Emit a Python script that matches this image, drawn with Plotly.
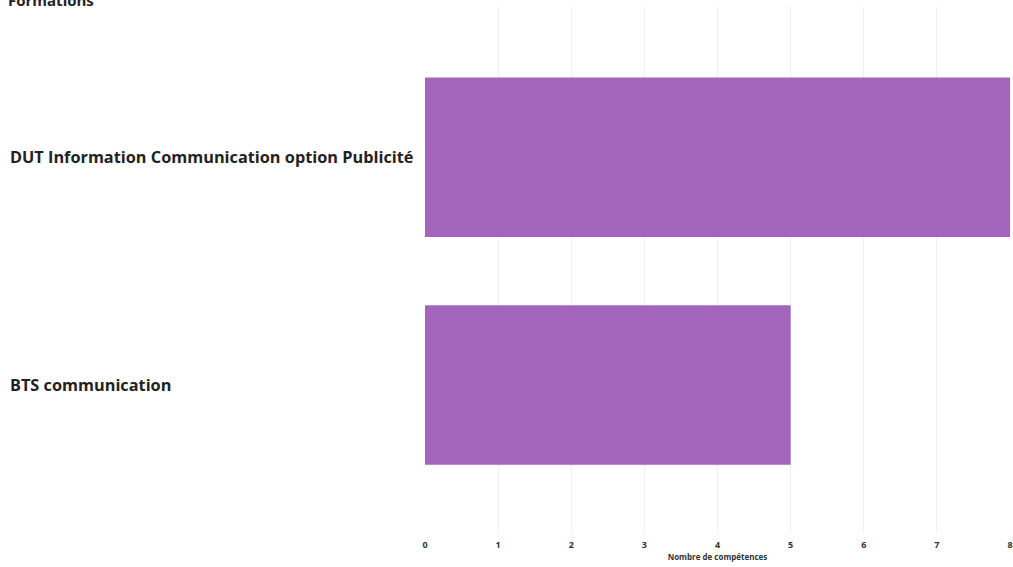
import plotly.graph_objects as go

formations = ["BTS communication", "DUT Information Communication option Publicité"]
nb_competences = [5, 8]
x_ticks = [0, 1, 2, 3, 4, 5, 6, 7, 8]

BAR_COLOR = "#a364bc"
FONT = "Open Sans"
TXT = "#222222"

W, H = 1013, 567
L, R, T, B = 425, 0, 7, 34
plot_w = W - L - R
plot_h = H - T - B

fig = go.Figure()
fig.add_trace(go.Bar(
    y=list(range(len(formations))),
    x=nb_competences,
    orientation="h",
    width=0.7,
    marker=dict(color=BAR_COLOR, line=dict(width=0)),
    hoverinfo="x",
))

# labels des formations, alignés à gauche
for i, name in enumerate(formations):
    fig.add_annotation(
        x=-(L - 6) / plot_w, y=i, xref="paper", yref="y",
        text="<b>%s</b>" % name, showarrow=False,
        xanchor="left", yanchor="middle",
        font=dict(family=FONT, size=16.3, color=TXT),
    )

# titre de l'axe y, en haut à gauche
fig.add_annotation(
    x=-(L - 4) / plot_w, y=1 + (T - 12) / plot_h, xref="paper", yref="paper",
    text="<b>Formations</b>", showarrow=False,
    xanchor="left", yanchor="bottom",
    font=dict(family=FONT, size=15, color=TXT),
)

fig.update_layout(
    width=W, height=H,
    margin=dict(l=L, r=R, t=T, b=B),
    paper_bgcolor="white", plot_bgcolor="white",
    showlegend=False,
    xaxis=dict(
        range=[0, 8], tickvals=x_ticks,
        showgrid=True, gridcolor="#efefef", gridwidth=1,
        zeroline=False, showline=False,
        ticklabelstandoff=5, ticklabeloverflow="allow",
        tickfont=dict(family=FONT, size=9, color="#333333", weight="bold"),
        title=dict(text="<b>Nombre de compétences</b>", standoff=1,
                   font=dict(family=FONT, size=8, color="#333333")),
    ),
    yaxis=dict(
        range=[-0.65, 1.66], showticklabels=False,
        showgrid=False, zeroline=False, showline=False,
    ),
)

fig.write_html("out.html", config={"displayModeBar": False},
               post_script="document.body.style.margin='0';")
